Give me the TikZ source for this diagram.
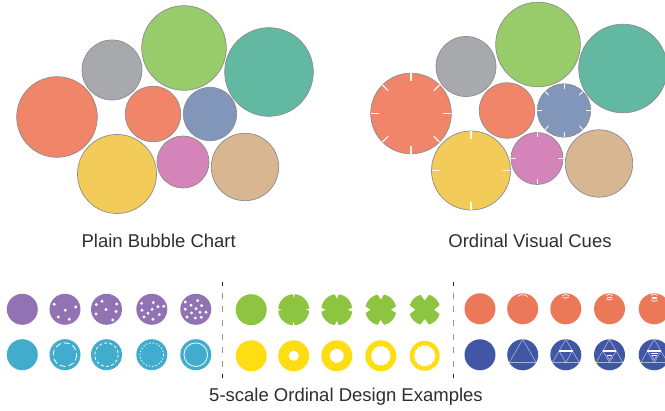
\documentclass[tikz,border=0pt]{standalone}
\usepackage{fontspec}
\setmainfont{Liberation Sans}
\definecolor{bOrange}{HTML}{F1856A}
\definecolor{bGray}{HTML}{A8A9AD}
\definecolor{bGreen}{HTML}{98CC6B}
\definecolor{bTeal}{HTML}{62B8A0}
\definecolor{bBlue}{HTML}{8196B9}
\definecolor{bYellow}{HTML}{F2CB58}
\definecolor{bPink}{HTML}{D484B8}
\definecolor{bTan}{HTML}{D8B691}
\definecolor{bEdge}{HTML}{8C8C8C}
\definecolor{oPurple}{HTML}{9173B4}
\definecolor{oCyan}{HTML}{42ACCC}
\definecolor{oGreen}{HTML}{8DC440}
\definecolor{oYellow}{HTML}{FFDD15}
\definecolor{oOrange}{HTML}{EC785A}
\definecolor{oBlue}{HTML}{4157A5}
\definecolor{txt}{HTML}{2E2E2E}
\newcommand\drawbubbles{%
  \path[bub,fill=bOrange] (57,117) circle[radius=40.3];
  \path[bub,fill=bGray]   (112,70) circle[radius=30];
  \path[bub,fill=bGreen]  (184,48) circle[radius=42.3];
  \path[bub,fill=bTeal]   (269,72) circle[radius=44.3];
  \path[bub,fill=bOrange] (153,114) circle[radius=27.8];
  \path[bub,fill=bBlue]   (210,114) circle[radius=26.7];
  \path[bub,fill=bYellow] (117,174) circle[radius=39.5];
  \path[bub,fill=bPink]   (183,162) circle[radius=26];
  \path[bub,fill=bTan]    (245,167) circle[radius=33.7];
}
\newcommand\jhole[1]{%
  \fill[white] (0:#1) \foreach \i in {1,...,27} { -- ({\i*12.857}:{#1-0.9*mod(\i,2)}) } -- cycle;
}
\newcommand\notches[2]{% depth, half-width
  \foreach \a in {0,90,180,270} \fill[white,rotate=\a] (-#2,-17) -- (0,{-15.5+#1}) -- (#2,-17) -- cycle;
}
\begin{document}
\begin{tikzpicture}[x=1pt,y=-1pt,
  bub/.style={draw=bEdge,line width=0.7pt},
  tk/.style={draw=white,line width=1.2pt,opacity=0.92},
  dotw/.style={fill=white},
  ringw/.style={draw=white,line width=0.8pt},
  mk/.style={draw=white,line width=0.75pt,opacity=0.92},
  thinw/.style={draw=white,line width=0.6pt,opacity=0.55},
  boldw/.style={draw=white,line width=1.3pt},
  lbl/.style={font=\fontsize{18.5}{21}\selectfont,text=txt,inner sep=0pt,anchor=base},
  divg/.style={draw=gray!80,line width=0.9pt,dash pattern=on 6pt off 7.7pt},
  divk/.style={draw=black!85,line width=0.9pt}]
\useasboundingbox (0,0) rectangle (665,411);
\fill[white] (0,0) rectangle (665,411);

% ---------- plain bubble chart ----------
\drawbubbles

% ---------- ordinal visual cues ----------
\begin{scope}[shift={(354,-3.5)}]
  \drawbubbles
  \foreach \a in {0,45,...,315} \draw[tk] (57,117) ++(\a:40.3) -- ++(\a+180:8);
  \foreach \a in {0,90,180,270} \draw[tk] (117,174) ++(\a:39.5) -- ++(\a+180:8);
  \foreach \a in {0,45,...,315} \draw[tk,line width=1pt] (210,114) ++(\a:26.7) -- ++(\a+180:5);
  \foreach \a in {0,90,180,270} \draw[tk,line width=1pt] (183,162) ++(\a:26) -- ++(\a+180:5);
\end{scope}

\node[lbl] (t1) at (158.7,248) {Plain Bubble Chart};
\node[lbl] (t2) at (530,248) {Ordinal Visual Cues};
\node[lbl] (t3) at (346,402) {5-scale Ordinal Design Examples};

% ---------- dividers ----------
\foreach \x in {222.3,453.3} {
  \draw[divg] (\x,292.7) -- (\x,367.5);
  \draw[divk] (\x,282) -- (\x,286);
  \draw[divk] (\x,374) -- (\x,378);
}

% ---------- purple: dots ----------
\foreach \x in {22.3,65,106.5,151.8,195.8} \fill[oPurple] (\x,309.3) circle[radius=15.5];
\begin{scope}[shift={(65,309.3)}]
  \foreach \p in {(-10.7,-5),(10.7,-2.3),(0.3,1),(-6.7,7.7),(4.3,10)} \fill[dotw] \p circle[radius=1.65];
\end{scope}
\begin{scope}[shift={(106.5,309.3)}]
  \foreach \p in {(-10.2,-4.7),(-4.5,-8),(10.2,-5.3),(-0.5,0.3),(-10.5,4.7),(9.5,2.3),(6.2,10.7)} \fill[dotw] \p circle[radius=1.65];
\end{scope}
\begin{scope}[shift={(151.8,309.3)}]
  \foreach \p in {(-10.2,-6),(1.5,-6.7),(6.2,-2.5),(12,-3),(-9.8,1),(0.3,0),(-3.8,4),(7.5,5.3),(-7.8,7.8),(1.2,10)} \fill[dotw] \p circle[radius=1.6];
\end{scope}
\begin{scope}[shift={(195.8,309.3)}]
  \foreach \p in {(-10.5,-7.3),(-4.8,-4),(1.8,-8.7),(5.8,-3.7),(-10.5,0),(0.2,-0.5),(-4.2,3.7),(4.2,3),(10.2,3),(-8.8,7.7),(-0.5,8.8),(5.5,8)} \fill[dotw] \p circle[radius=1.6];
\end{scope}

% ---------- cyan: dashed rings ----------
\foreach \x in {22.3,65,106.5,151.8,195.8} \fill[oCyan] (\x,354.7) circle[radius=15.5];
\draw[ringw,dash pattern=on 6pt off 3pt] (65,354.7) circle[radius=11.8];
\draw[ringw,dash pattern=on 3pt off 2.3pt] (106.5,354.7) circle[radius=11.8];
\draw[ringw,dash pattern=on 1.4pt off 1.9pt] (151.8,354.7) circle[radius=11.8];
\draw[ringw] (195.8,354.7) circle[radius=11.8];

% ---------- green: notches ----------
\foreach \x in {251.2,293.7,336.8,380.8,424.7} \fill[oGreen] (\x,309.7) circle[radius=15.5];
\begin{scope}[shift={(293.7,309.7)}] \notches{3.5}{1.3} \end{scope}
\begin{scope}[shift={(336.8,309.7)}] \notches{4.3}{2.6} \end{scope}
\begin{scope}[shift={(380.8,309.7)}] \notches{5.2}{4.2} \end{scope}
\begin{scope}[shift={(424.7,309.7)}] \notches{6}{5.8} \end{scope}

% ---------- yellow: holes ----------
\foreach \x in {251.2,293.7,336.8,380.8} \fill[oYellow] (\x,355.8) circle[radius=15.5];
\fill[oYellow] (424.7,355.8) circle[radius=15];
\fill[white] (293.7,355.8) circle[radius=5];
\begin{scope}[shift={(336.8,355.8)}] \jhole{7.3} \end{scope}
\begin{scope}[shift={(380.8,355.8)}] \jhole{10} \end{scope}
\begin{scope}[shift={(424.7,355.8)}] \jhole{10.8} \end{scope}

% ---------- orange: stacked marks ----------
\foreach \x in {480,522.7,565.8,609.5,654.2} \fill[oOrange] (\x,308.8) circle[radius=15.5];
\begin{scope}[shift={(522.7,308.8)}]
  \draw[mk] (-5,-12.2) .. controls (-2,-14.8) and (2,-14.8) .. (5,-12.2);
\end{scope}
\begin{scope}[shift={(565.8,308.8)}]
  \draw[mk] (-3.3,-13) .. controls (-1.5,-14.9) and (1.5,-14.9) .. (3.3,-13);
  \draw[mk] (-3.3,-11.8) .. controls (-1.5,-10.2) and (1.5,-10.2) .. (3.3,-11.8);
\end{scope}
\begin{scope}[shift={(609.5,308.8)}]
  \draw[mk] (-3.3,-13.2) .. controls (-1.5,-15) and (1.5,-15) .. (3.3,-13.2);
  \draw[mk] (-2.5,-11.6) -- (2.5,-11.6);
  \draw[mk] (-3.3,-10) .. controls (-1.5,-8.4) and (1.5,-8.4) .. (3.3,-10);
\end{scope}
\begin{scope}[shift={(654.2,308.8)}]
  \draw[mk] (-3.3,-13.4) .. controls (-1.5,-15.2) and (1.5,-15.2) .. (3.3,-13.4);
  \draw[mk] (-2.5,-11.9) -- (2.5,-11.9);
  \draw[mk] (-2.5,-10.1) -- (2.5,-10.1);
  \draw[mk] (-3.3,-8.6) .. controls (-1.5,-7) and (1.5,-7) .. (3.3,-8.6);
\end{scope}

% ---------- blue: Sierpinski ----------
\foreach \x in {480,522.7,565.8,609.5,654.2} \fill[oBlue] (\x,354.8) circle[radius=15.5];
\foreach \x in {522.7,565.8,609.5,654.2}
  \draw[thinw] (\x,354.8) ++(0,-15.5) -- ++(-13.42,23.25) -- ++(26.84,0) -- cycle;
\foreach \x in {565.8,609.5,654.2} {
  \draw[thinw] (\x,354.8) ++(-6.71,-3.875) -- ++(6.71,11.625) -- ++(6.71,-11.625);
  \draw[boldw] (\x,354.8) ++(-6.71,-3.875) -- ++(13.42,0);
}
\foreach \x in {609.5,654.2} {
  \draw[thinw] (\x,354.8) ++(-2.6,0.6) -- ++(2.6,4.5) -- ++(2.6,-4.5);
  \draw[boldw] (\x,354.8) ++(-2.6,0.6) -- ++(5.2,0);
}
\draw[boldw] (654.2,354.8) ++(-3.6,-1.6) -- ++(7.2,0);
\end{tikzpicture}
\end{document}
